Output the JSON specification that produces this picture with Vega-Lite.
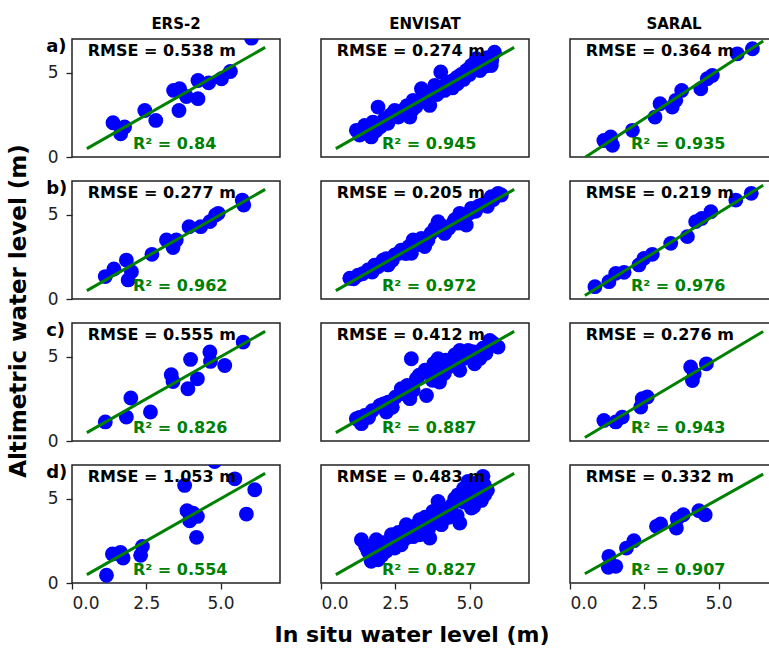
{
 "$schema": "https://vega.github.io/schema/vega-lite/v6.json",
 "padding": {"left": 7, "top": 17, "right": 0, "bottom": 0},
 "bounds": "flush",
 "config": {
  "font": "DejaVu Sans",
  "view": {"stroke": "#222", "strokeWidth": 1.5},
  "axis": {"grid": false, "domain": false, "tickColor": "#222", "tickSize": 6, "tickWidth": 1.3, "labelFontSize": 17, "labelColor": "#222", "labelPadding": 6}
 },
 "data": {"values": [
  {"s":"ERS-2","r":"a","k":"P","x":1.38,"y":2.03},{"s":"ERS-2","r":"a","k":"P","x":1.64,"y":1.38},{"s":"ERS-2","r":"a","k":"P","x":1.77,"y":1.78},{"s":"ERS-2","r":"a","k":"P","x":2.45,"y":2.76},{"s":"ERS-2","r":"a","k":"P","x":2.82,"y":2.17},{"s":"ERS-2","r":"a","k":"P","x":3.42,"y":3.95},{"s":"ERS-2","r":"a","k":"P","x":3.62,"y":4.05},{"s":"ERS-2","r":"a","k":"P","x":3.6,"y":2.76},{"s":"ERS-2","r":"a","k":"P","x":3.85,"y":3.59},{"s":"ERS-2","r":"a","k":"P","x":4.24,"y":3.46},{"s":"ERS-2","r":"a","k":"P","x":4.24,"y":4.54},{"s":"ERS-2","r":"a","k":"P","x":4.6,"y":4.4},{"s":"ERS-2","r":"a","k":"P","x":5.03,"y":4.64},{"s":"ERS-2","r":"a","k":"P","x":5.33,"y":5.07},{"s":"ERS-2","r":"a","k":"P","x":6.04,"y":7.05},
  {"s":"ERS-2","r":"b","k":"P","x":1.12,"y":1.33},{"s":"ERS-2","r":"b","k":"P","x":1.41,"y":1.78},{"s":"ERS-2","r":"b","k":"P","x":1.83,"y":2.31},{"s":"ERS-2","r":"b","k":"P","x":1.89,"y":1.13},{"s":"ERS-2","r":"b","k":"P","x":2.0,"y":1.62},{"s":"ERS-2","r":"b","k":"P","x":2.69,"y":2.65},{"s":"ERS-2","r":"b","k":"P","x":3.18,"y":3.5},{"s":"ERS-2","r":"b","k":"P","x":3.4,"y":3.05},{"s":"ERS-2","r":"b","k":"P","x":3.51,"y":3.5},{"s":"ERS-2","r":"b","k":"P","x":3.94,"y":4.29},{"s":"ERS-2","r":"b","k":"P","x":4.33,"y":4.29},{"s":"ERS-2","r":"b","k":"P","x":4.64,"y":4.59},{"s":"ERS-2","r":"b","k":"P","x":4.83,"y":4.98},{"s":"ERS-2","r":"b","k":"P","x":4.92,"y":5.08},{"s":"ERS-2","r":"b","k":"P","x":5.73,"y":5.87},{"s":"ERS-2","r":"b","k":"P","x":5.78,"y":5.57},
  {"s":"ERS-2","r":"c","k":"P","x":1.12,"y":1.13},{"s":"ERS-2","r":"c","k":"P","x":1.83,"y":1.42},{"s":"ERS-2","r":"c","k":"P","x":1.98,"y":2.55},{"s":"ERS-2","r":"c","k":"P","x":2.64,"y":1.72},{"s":"ERS-2","r":"c","k":"P","x":3.34,"y":3.93},{"s":"ERS-2","r":"c","k":"P","x":3.4,"y":3.53},{"s":"ERS-2","r":"c","k":"P","x":3.9,"y":3.1},{"s":"ERS-2","r":"c","k":"P","x":3.99,"y":4.84},{"s":"ERS-2","r":"c","k":"P","x":4.22,"y":3.69},{"s":"ERS-2","r":"c","k":"P","x":4.64,"y":5.28},{"s":"ERS-2","r":"c","k":"P","x":4.66,"y":4.72},{"s":"ERS-2","r":"c","k":"P","x":5.14,"y":4.48},{"s":"ERS-2","r":"c","k":"P","x":5.76,"y":5.87},
  {"s":"ERS-2","r":"d","k":"P","x":1.16,"y":0.46},{"s":"ERS-2","r":"d","k":"P","x":1.36,"y":1.72},{"s":"ERS-2","r":"d","k":"P","x":1.63,"y":1.82},{"s":"ERS-2","r":"d","k":"P","x":1.72,"y":1.48},{"s":"ERS-2","r":"d","k":"P","x":2.31,"y":1.64},{"s":"ERS-2","r":"d","k":"P","x":2.37,"y":2.17},{"s":"ERS-2","r":"d","k":"P","x":3.79,"y":5.79},{"s":"ERS-2","r":"d","k":"P","x":3.87,"y":4.29},{"s":"ERS-2","r":"d","k":"P","x":3.96,"y":3.69},{"s":"ERS-2","r":"d","k":"P","x":4.07,"y":4.15},{"s":"ERS-2","r":"d","k":"P","x":4.22,"y":3.95},{"s":"ERS-2","r":"d","k":"P","x":4.19,"y":2.71},{"s":"ERS-2","r":"d","k":"P","x":4.8,"y":7.21},{"s":"ERS-2","r":"d","k":"P","x":5.48,"y":6.18},{"s":"ERS-2","r":"d","k":"P","x":5.87,"y":4.09},{"s":"ERS-2","r":"d","k":"P","x":6.15,"y":5.53},
  {"s":"ENVISAT","r":"a","k":"P","x":1.19,"y":1.58},{"s":"ENVISAT","r":"a","k":"P","x":1.47,"y":1.87},{"s":"ENVISAT","r":"a","k":"P","x":1.69,"y":1.19},{"s":"ENVISAT","r":"a","k":"P","x":1.92,"y":2.96},{"s":"ENVISAT","r":"a","k":"P","x":1.75,"y":2.07},{"s":"ENVISAT","r":"a","k":"P","x":1.5,"y":1.45},{"s":"ENVISAT","r":"a","k":"P","x":2.14,"y":2.27},{"s":"ENVISAT","r":"a","k":"P","x":2.0,"y":1.8},{"s":"ENVISAT","r":"a","k":"P","x":2.48,"y":2.76},{"s":"ENVISAT","r":"a","k":"P","x":2.6,"y":2.37},{"s":"ENVISAT","r":"a","k":"P","x":2.82,"y":2.86},{"s":"ENVISAT","r":"a","k":"P","x":2.99,"y":2.37},{"s":"ENVISAT","r":"a","k":"P","x":3.1,"y":3.36},{"s":"ENVISAT","r":"a","k":"P","x":3.2,"y":3.0},{"s":"ENVISAT","r":"a","k":"P","x":3.38,"y":4.05},{"s":"ENVISAT","r":"a","k":"P","x":3.49,"y":3.46},{"s":"ENVISAT","r":"a","k":"P","x":3.66,"y":3.06},{"s":"ENVISAT","r":"a","k":"P","x":3.83,"y":4.25},{"s":"ENVISAT","r":"a","k":"P","x":3.9,"y":3.7},{"s":"ENVISAT","r":"a","k":"P","x":4.03,"y":5.04},{"s":"ENVISAT","r":"a","k":"P","x":4.16,"y":3.95},{"s":"ENVISAT","r":"a","k":"P","x":4.33,"y":4.45},{"s":"ENVISAT","r":"a","k":"P","x":4.59,"y":4.74},{"s":"ENVISAT","r":"a","k":"P","x":4.59,"y":4.35},{"s":"ENVISAT","r":"a","k":"P","x":4.89,"y":5.13},{"s":"ENVISAT","r":"a","k":"P","x":5.06,"y":5.43},{"s":"ENVISAT","r":"a","k":"P","x":5.23,"y":5.83},{"s":"ENVISAT","r":"a","k":"P","x":5.4,"y":5.63},{"s":"ENVISAT","r":"a","k":"P","x":5.35,"y":5.13},{"s":"ENVISAT","r":"a","k":"P","x":5.73,"y":5.43},{"s":"ENVISAT","r":"a","k":"P","x":5.84,"y":6.22},
  {"s":"ENVISAT","r":"a","k":"P","x":1.3,"y":1.3},{"s":"ENVISAT","r":"a","k":"P","x":1.6,"y":1.6},{"s":"ENVISAT","r":"a","k":"P","x":1.85,"y":1.55},{"s":"ENVISAT","r":"a","k":"P","x":2.25,"y":2.0},{"s":"ENVISAT","r":"a","k":"P","x":2.35,"y":2.5},{"s":"ENVISAT","r":"a","k":"P","x":2.7,"y":2.6},{"s":"ENVISAT","r":"a","k":"P","x":2.9,"y":3.05},{"s":"ENVISAT","r":"a","k":"P","x":3.05,"y":2.75},{"s":"ENVISAT","r":"a","k":"P","x":3.3,"y":3.3},{"s":"ENVISAT","r":"a","k":"P","x":3.5,"y":3.8},{"s":"ENVISAT","r":"a","k":"P","x":3.62,"y":3.5},{"s":"ENVISAT","r":"a","k":"P","x":4.0,"y":4.1},{"s":"ENVISAT","r":"a","k":"P","x":4.2,"y":4.3},{"s":"ENVISAT","r":"a","k":"P","x":4.42,"y":4.1},{"s":"ENVISAT","r":"a","k":"P","x":4.5,"y":4.6},{"s":"ENVISAT","r":"a","k":"P","x":4.72,"y":4.9},{"s":"ENVISAT","r":"a","k":"P","x":4.8,"y":4.6},{"s":"ENVISAT","r":"a","k":"P","x":5.0,"y":4.9},{"s":"ENVISAT","r":"a","k":"P","x":5.15,"y":5.2},{"s":"ENVISAT","r":"a","k":"P","x":5.3,"y":5.5},{"s":"ENVISAT","r":"a","k":"P","x":5.55,"y":5.4},{"s":"ENVISAT","r":"a","k":"P","x":5.6,"y":5.9},{"s":"ENVISAT","r":"a","k":"P","x":5.75,"y":5.75},
  {"s":"ENVISAT","r":"b","k":"P","x":0.97,"y":1.23},{"s":"ENVISAT","r":"b","k":"P","x":1.25,"y":1.42},{"s":"ENVISAT","r":"b","k":"P","x":1.58,"y":1.72},{"s":"ENVISAT","r":"b","k":"P","x":1.92,"y":1.92},{"s":"ENVISAT","r":"b","k":"P","x":2.09,"y":2.31},{"s":"ENVISAT","r":"b","k":"P","x":2.26,"y":2.02},{"s":"ENVISAT","r":"b","k":"P","x":2.48,"y":2.61},{"s":"ENVISAT","r":"b","k":"P","x":2.7,"y":2.9},{"s":"ENVISAT","r":"b","k":"P","x":3.04,"y":2.71},{"s":"ENVISAT","r":"b","k":"P","x":3.1,"y":3.5},{"s":"ENVISAT","r":"b","k":"P","x":3.38,"y":3.6},{"s":"ENVISAT","r":"b","k":"P","x":3.49,"y":3.11},{"s":"ENVISAT","r":"b","k":"P","x":3.83,"y":4.19},{"s":"ENVISAT","r":"b","k":"P","x":3.94,"y":4.59},{"s":"ENVISAT","r":"b","k":"P","x":4.16,"y":3.89},{"s":"ENVISAT","r":"b","k":"P","x":4.44,"y":4.49},{"s":"ENVISAT","r":"b","k":"P","x":4.67,"y":5.08},{"s":"ENVISAT","r":"b","k":"P","x":4.89,"y":4.39},{"s":"ENVISAT","r":"b","k":"P","x":5.06,"y":5.38},{"s":"ENVISAT","r":"b","k":"P","x":5.4,"y":5.57},{"s":"ENVISAT","r":"b","k":"P","x":5.73,"y":6.07},{"s":"ENVISAT","r":"b","k":"P","x":6.07,"y":6.17},{"s":"ENVISAT","r":"b","k":"P","x":5.96,"y":6.27},
  {"s":"ENVISAT","r":"b","k":"P","x":1.1,"y":1.2},{"s":"ENVISAT","r":"b","k":"P","x":1.4,"y":1.5},{"s":"ENVISAT","r":"b","k":"P","x":1.72,"y":1.6},{"s":"ENVISAT","r":"b","k":"P","x":1.8,"y":2.0},{"s":"ENVISAT","r":"b","k":"P","x":2.0,"y":2.1},{"s":"ENVISAT","r":"b","k":"P","x":2.2,"y":2.4},{"s":"ENVISAT","r":"b","k":"P","x":2.4,"y":2.3},{"s":"ENVISAT","r":"b","k":"P","x":2.6,"y":2.7},{"s":"ENVISAT","r":"b","k":"P","x":2.85,"y":2.7},{"s":"ENVISAT","r":"b","k":"P","x":2.95,"y":3.1},{"s":"ENVISAT","r":"b","k":"P","x":3.2,"y":3.2},{"s":"ENVISAT","r":"b","k":"P","x":3.3,"y":3.4},{"s":"ENVISAT","r":"b","k":"P","x":3.6,"y":3.5},{"s":"ENVISAT","r":"b","k":"P","x":3.7,"y":3.9},{"s":"ENVISAT","r":"b","k":"P","x":4.0,"y":4.1},{"s":"ENVISAT","r":"b","k":"P","x":4.1,"y":4.3},{"s":"ENVISAT","r":"b","k":"P","x":4.3,"y":4.2},{"s":"ENVISAT","r":"b","k":"P","x":4.5,"y":4.7},{"s":"ENVISAT","r":"b","k":"P","x":4.6,"y":4.5},{"s":"ENVISAT","r":"b","k":"P","x":4.8,"y":4.9},{"s":"ENVISAT","r":"b","k":"P","x":5.0,"y":5.1},{"s":"ENVISAT","r":"b","k":"P","x":5.2,"y":5.2},{"s":"ENVISAT","r":"b","k":"P","x":5.3,"y":5.5},{"s":"ENVISAT","r":"b","k":"P","x":5.55,"y":5.7},{"s":"ENVISAT","r":"b","k":"P","x":5.6,"y":5.5},{"s":"ENVISAT","r":"b","k":"P","x":5.8,"y":5.9},
  {"s":"ENVISAT","r":"c","k":"P","x":1.19,"y":1.32},{"s":"ENVISAT","r":"c","k":"P","x":1.47,"y":1.52},{"s":"ENVISAT","r":"c","k":"P","x":1.36,"y":1.03},{"s":"ENVISAT","r":"c","k":"P","x":1.98,"y":2.11},{"s":"ENVISAT","r":"c","k":"P","x":2.26,"y":2.31},{"s":"ENVISAT","r":"c","k":"P","x":2.2,"y":1.72},{"s":"ENVISAT","r":"c","k":"P","x":2.7,"y":3.1},{"s":"ENVISAT","r":"c","k":"P","x":3.04,"y":4.88},{"s":"ENVISAT","r":"c","k":"P","x":2.99,"y":2.51},{"s":"ENVISAT","r":"c","k":"P","x":3.21,"y":3.69},{"s":"ENVISAT","r":"c","k":"P","x":3.55,"y":2.7},{"s":"ENVISAT","r":"c","k":"P","x":3.66,"y":4.19},{"s":"ENVISAT","r":"c","k":"P","x":3.94,"y":4.88},{"s":"ENVISAT","r":"c","k":"P","x":3.99,"y":3.5},{"s":"ENVISAT","r":"c","k":"P","x":4.28,"y":4.39},{"s":"ENVISAT","r":"c","k":"P","x":4.67,"y":5.37},{"s":"ENVISAT","r":"c","k":"P","x":4.67,"y":4.19},{"s":"ENVISAT","r":"c","k":"P","x":4.95,"y":5.37},{"s":"ENVISAT","r":"c","k":"P","x":5.17,"y":4.58},{"s":"ENVISAT","r":"c","k":"P","x":5.29,"y":5.28},{"s":"ENVISAT","r":"c","k":"P","x":5.68,"y":5.96},{"s":"ENVISAT","r":"c","k":"P","x":5.96,"y":5.57},
  {"s":"ENVISAT","r":"c","k":"P","x":1.3,"y":1.4},{"s":"ENVISAT","r":"c","k":"P","x":1.6,"y":1.4},{"s":"ENVISAT","r":"c","k":"P","x":1.72,"y":1.8},{"s":"ENVISAT","r":"c","k":"P","x":2.1,"y":2.2},{"s":"ENVISAT","r":"c","k":"P","x":2.4,"y":2.0},{"s":"ENVISAT","r":"c","k":"P","x":2.5,"y":2.6},{"s":"ENVISAT","r":"c","k":"P","x":2.8,"y":2.8},{"s":"ENVISAT","r":"c","k":"P","x":2.9,"y":3.3},{"s":"ENVISAT","r":"c","k":"P","x":3.1,"y":3.0},{"s":"ENVISAT","r":"c","k":"P","x":3.3,"y":3.9},{"s":"ENVISAT","r":"c","k":"P","x":3.5,"y":4.2},{"s":"ENVISAT","r":"c","k":"P","x":3.75,"y":3.6},{"s":"ENVISAT","r":"c","k":"P","x":3.8,"y":4.6},{"s":"ENVISAT","r":"c","k":"P","x":4.05,"y":4.3},{"s":"ENVISAT","r":"c","k":"P","x":4.15,"y":4.0},{"s":"ENVISAT","r":"c","k":"P","x":4.2,"y":4.8},{"s":"ENVISAT","r":"c","k":"P","x":4.45,"y":4.6},{"s":"ENVISAT","r":"c","k":"P","x":4.5,"y":5.1},{"s":"ENVISAT","r":"c","k":"P","x":4.8,"y":4.9},{"s":"ENVISAT","r":"c","k":"P","x":5.0,"y":5.0},{"s":"ENVISAT","r":"c","k":"P","x":5.1,"y":5.3},{"s":"ENVISAT","r":"c","k":"P","x":5.35,"y":4.9},{"s":"ENVISAT","r":"c","k":"P","x":5.45,"y":5.5},{"s":"ENVISAT","r":"c","k":"P","x":5.55,"y":5.2},{"s":"ENVISAT","r":"c","k":"P","x":5.8,"y":5.8},
  {"s":"ENVISAT","r":"d","k":"P","x":1.36,"y":2.57},{"s":"ENVISAT","r":"d","k":"P","x":1.86,"y":2.57},{"s":"ENVISAT","r":"d","k":"P","x":1.58,"y":1.88},{"s":"ENVISAT","r":"d","k":"P","x":1.69,"y":1.29},{"s":"ENVISAT","r":"d","k":"P","x":1.92,"y":1.38},{"s":"ENVISAT","r":"d","k":"P","x":2.37,"y":2.86},{"s":"ENVISAT","r":"d","k":"P","x":2.48,"y":2.07},{"s":"ENVISAT","r":"d","k":"P","x":2.7,"y":2.27},{"s":"ENVISAT","r":"d","k":"P","x":2.87,"y":3.46},{"s":"ENVISAT","r":"d","k":"P","x":3.32,"y":3.75},{"s":"ENVISAT","r":"d","k":"P","x":3.32,"y":2.86},{"s":"ENVISAT","r":"d","k":"P","x":3.66,"y":2.67},{"s":"ENVISAT","r":"d","k":"P","x":3.77,"y":4.25},{"s":"ENVISAT","r":"d","k":"P","x":3.94,"y":4.84},{"s":"ENVISAT","r":"d","k":"P","x":4.05,"y":3.46},{"s":"ENVISAT","r":"d","k":"P","x":4.61,"y":5.23},{"s":"ENVISAT","r":"d","k":"P","x":4.67,"y":3.56},{"s":"ENVISAT","r":"d","k":"P","x":5.06,"y":4.45},{"s":"ENVISAT","r":"d","k":"P","x":4.95,"y":6.03},{"s":"ENVISAT","r":"d","k":"P","x":5.14,"y":4.54},{"s":"ENVISAT","r":"d","k":"P","x":5.45,"y":6.33},{"s":"ENVISAT","r":"d","k":"P","x":5.51,"y":5.23},{"s":"ENVISAT","r":"d","k":"P","x":5.29,"y":5.63},
  {"s":"ENVISAT","r":"d","k":"P","x":1.5,"y":2.2},{"s":"ENVISAT","r":"d","k":"P","x":1.75,"y":1.6},{"s":"ENVISAT","r":"d","k":"P","x":1.8,"y":2.2},{"s":"ENVISAT","r":"d","k":"P","x":2.05,"y":1.65},{"s":"ENVISAT","r":"d","k":"P","x":2.1,"y":2.4},{"s":"ENVISAT","r":"d","k":"P","x":2.2,"y":1.9},{"s":"ENVISAT","r":"d","k":"P","x":2.55,"y":2.45},{"s":"ENVISAT","r":"d","k":"P","x":2.6,"y":3.0},{"s":"ENVISAT","r":"d","k":"P","x":2.85,"y":2.65},{"s":"ENVISAT","r":"d","k":"P","x":3.0,"y":3.3},{"s":"ENVISAT","r":"d","k":"P","x":3.1,"y":2.75},{"s":"ENVISAT","r":"d","k":"P","x":3.2,"y":3.4},{"s":"ENVISAT","r":"d","k":"P","x":3.45,"y":3.2},{"s":"ENVISAT","r":"d","k":"P","x":3.5,"y":3.9},{"s":"ENVISAT","r":"d","k":"P","x":3.62,"y":3.2},{"s":"ENVISAT","r":"d","k":"P","x":3.75,"y":3.7},{"s":"ENVISAT","r":"d","k":"P","x":3.9,"y":3.95},{"s":"ENVISAT","r":"d","k":"P","x":4.0,"y":4.5},{"s":"ENVISAT","r":"d","k":"P","x":4.2,"y":4.2},{"s":"ENVISAT","r":"d","k":"P","x":4.3,"y":3.9},{"s":"ENVISAT","r":"d","k":"P","x":4.4,"y":4.6},{"s":"ENVISAT","r":"d","k":"P","x":4.5,"y":5.0},{"s":"ENVISAT","r":"d","k":"P","x":4.58,"y":4.0},{"s":"ENVISAT","r":"d","k":"P","x":4.8,"y":4.8},{"s":"ENVISAT","r":"d","k":"P","x":4.8,"y":5.6},{"s":"ENVISAT","r":"d","k":"P","x":5.0,"y":5.3},{"s":"ENVISAT","r":"d","k":"P","x":5.2,"y":5.0},{"s":"ENVISAT","r":"d","k":"P","x":5.3,"y":6.0},{"s":"ENVISAT","r":"d","k":"P","x":5.4,"y":4.9},{"s":"ENVISAT","r":"d","k":"P","x":5.5,"y":5.8},{"s":"ENVISAT","r":"d","k":"P","x":5.6,"y":5.5},
  {"s":"SARAL","r":"a","k":"P","x":1.14,"y":0.98},{"s":"SARAL","r":"a","k":"P","x":1.37,"y":1.19},{"s":"SARAL","r":"a","k":"P","x":1.43,"y":0.69},{"s":"SARAL","r":"a","k":"P","x":2.1,"y":1.58},{"s":"SARAL","r":"a","k":"P","x":2.86,"y":2.37},{"s":"SARAL","r":"a","k":"P","x":3.03,"y":3.16},{"s":"SARAL","r":"a","k":"P","x":3.44,"y":2.96},{"s":"SARAL","r":"a","k":"P","x":3.56,"y":3.36},{"s":"SARAL","r":"a","k":"P","x":3.76,"y":3.95},{"s":"SARAL","r":"a","k":"P","x":4.4,"y":4.05},{"s":"SARAL","r":"a","k":"P","x":4.62,"y":4.64},{"s":"SARAL","r":"a","k":"P","x":4.79,"y":4.84},{"s":"SARAL","r":"a","k":"P","x":5.63,"y":6.12},{"s":"SARAL","r":"a","k":"P","x":6.14,"y":6.42},
  {"s":"SARAL","r":"b","k":"P","x":0.84,"y":0.73},{"s":"SARAL","r":"b","k":"P","x":1.31,"y":1.03},{"s":"SARAL","r":"b","k":"P","x":1.54,"y":1.52},{"s":"SARAL","r":"b","k":"P","x":1.82,"y":1.58},{"s":"SARAL","r":"b","k":"P","x":2.32,"y":2.02},{"s":"SARAL","r":"b","k":"P","x":2.49,"y":2.41},{"s":"SARAL","r":"b","k":"P","x":2.77,"y":2.65},{"s":"SARAL","r":"b","k":"P","x":3.39,"y":3.3},{"s":"SARAL","r":"b","k":"P","x":3.95,"y":3.7},{"s":"SARAL","r":"b","k":"P","x":4.23,"y":4.59},{"s":"SARAL","r":"b","k":"P","x":4.43,"y":4.78},{"s":"SARAL","r":"b","k":"P","x":4.74,"y":5.18},{"s":"SARAL","r":"b","k":"P","x":5.58,"y":5.87},{"s":"SARAL","r":"b","k":"P","x":6.1,"y":6.27},
  {"s":"SARAL","r":"c","k":"P","x":1.14,"y":1.22},{"s":"SARAL","r":"c","k":"P","x":1.54,"y":1.13},{"s":"SARAL","r":"c","k":"P","x":1.76,"y":1.42},{"s":"SARAL","r":"c","k":"P","x":2.38,"y":2.01},{"s":"SARAL","r":"c","k":"P","x":2.43,"y":2.51},{"s":"SARAL","r":"c","k":"P","x":2.6,"y":2.61},{"s":"SARAL","r":"c","k":"P","x":4.06,"y":4.39},{"s":"SARAL","r":"c","k":"P","x":4.12,"y":3.59},{"s":"SARAL","r":"c","k":"P","x":4.18,"y":3.99},{"s":"SARAL","r":"c","k":"P","x":4.59,"y":4.58},
  {"s":"SARAL","r":"d","k":"P","x":1.31,"y":1.58},{"s":"SARAL","r":"d","k":"P","x":1.29,"y":0.93},{"s":"SARAL","r":"d","k":"P","x":1.54,"y":0.99},{"s":"SARAL","r":"d","k":"P","x":1.9,"y":2.07},{"s":"SARAL","r":"d","k":"P","x":2.15,"y":2.51},{"s":"SARAL","r":"d","k":"P","x":2.91,"y":3.36},{"s":"SARAL","r":"d","k":"P","x":3.05,"y":3.5},{"s":"SARAL","r":"d","k":"P","x":3.58,"y":3.26},{"s":"SARAL","r":"d","k":"P","x":3.61,"y":3.81},{"s":"SARAL","r":"d","k":"P","x":3.81,"y":4.05},{"s":"SARAL","r":"d","k":"P","x":4.34,"y":4.29},{"s":"SARAL","r":"d","k":"P","x":4.55,"y":4.05},
  {"s":"ERS-2","r":"a","k":"L","x":0.5,"y":0.5},{"s":"ERS-2","r":"a","k":"L","x":6.5,"y":6.5},
  {"s":"ERS-2","r":"b","k":"L","x":0.5,"y":0.5},{"s":"ERS-2","r":"b","k":"L","x":6.5,"y":6.5},
  {"s":"ERS-2","r":"c","k":"L","x":0.5,"y":0.5},{"s":"ERS-2","r":"c","k":"L","x":6.5,"y":6.5},
  {"s":"ERS-2","r":"d","k":"L","x":0.5,"y":0.5},{"s":"ERS-2","r":"d","k":"L","x":6.5,"y":6.5},
  {"s":"ENVISAT","r":"a","k":"L","x":0.5,"y":0.5},{"s":"ENVISAT","r":"a","k":"L","x":6.5,"y":6.5},
  {"s":"ENVISAT","r":"b","k":"L","x":0.5,"y":0.5},{"s":"ENVISAT","r":"b","k":"L","x":6.5,"y":6.5},
  {"s":"ENVISAT","r":"c","k":"L","x":0.5,"y":0.5},{"s":"ENVISAT","r":"c","k":"L","x":6.5,"y":6.5},
  {"s":"ENVISAT","r":"d","k":"L","x":0.5,"y":0.5},{"s":"ENVISAT","r":"d","k":"L","x":6.5,"y":6.5},
  {"s":"SARAL","r":"a","k":"L","x":0.5,"y":-0.03},{"s":"SARAL","r":"a","k":"L","x":6.5,"y":6.88},
  {"s":"SARAL","r":"b","k":"L","x":0.5,"y":0.21},{"s":"SARAL","r":"b","k":"L","x":6.5,"y":6.75},
  {"s":"SARAL","r":"c","k":"L","x":0.5,"y":0.21},{"s":"SARAL","r":"c","k":"L","x":6.5,"y":6.5},
  {"s":"SARAL","r":"d","k":"L","x":0.5,"y":0.55},{"s":"SARAL","r":"d","k":"L","x":6.5,"y":6.46},
  {"s":"ERS-2","r":"a","k":"S","t1":"RMSE = 0.538 m","t2":"R² = 0.84","g":"a)"},
  {"s":"ERS-2","r":"b","k":"S","t1":"RMSE = 0.277 m","t2":"R² = 0.962","g":"b)"},
  {"s":"ERS-2","r":"c","k":"S","t1":"RMSE = 0.555 m","t2":"R² = 0.826","g":"c)"},
  {"s":"ERS-2","r":"d","k":"S","t1":"RMSE = 1.053 m","t2":"R² = 0.554","g":"d)"},
  {"s":"ENVISAT","r":"a","k":"S","t1":"RMSE = 0.274 m","t2":"R² = 0.945","g":""},
  {"s":"ENVISAT","r":"b","k":"S","t1":"RMSE = 0.205 m","t2":"R² = 0.972","g":""},
  {"s":"ENVISAT","r":"c","k":"S","t1":"RMSE = 0.412 m","t2":"R² = 0.887","g":""},
  {"s":"ENVISAT","r":"d","k":"S","t1":"RMSE = 0.483 m","t2":"R² = 0.827","g":""},
  {"s":"SARAL","r":"a","k":"S","t1":"RMSE = 0.364 m","t2":"R² = 0.935","g":""},
  {"s":"SARAL","r":"b","k":"S","t1":"RMSE = 0.219 m","t2":"R² = 0.976","g":""},
  {"s":"SARAL","r":"c","k":"S","t1":"RMSE = 0.276 m","t2":"R² = 0.943","g":""},
  {"s":"SARAL","r":"d","k":"S","t1":"RMSE = 0.332 m","t2":"R² = 0.907","g":""}
 ]},
 "facet": {
  "row": {"field": "r", "type": "nominal", "sort": ["a","b","c","d"],
   "header": {"title": "Altimetric water level (m)", "titleFontSize": 23, "titleFontWeight": "bold", "titleColor": "#000", "titlePadding": 6, "labels": false}},
  "column": {"field": "s", "type": "nominal", "sort": ["ERS-2","ENVISAT","SARAL"],
   "header": {"title": "In situ water level (m)", "titleOrient": "bottom", "labelOrient": "top", "titleFontSize": 22, "titleFontWeight": "bold", "titleColor": "#000", "labelFontSize": 15, "labelFontWeight": "bold", "labelColor": "#000", "labelPadding": 7, "titlePadding": 4}}
 },
 "spacing": {"row": 24, "column": 41},
 "spec": {
  "width": 208,
  "height": 118,
  "layer": [
   {"transform": [{"filter": "datum.k == 'P'"}], "mark": {"type": "circle", "size": 220, "color": "#0000ff", "opacity": 1, "clip": true},
    "encoding": {
     "x": {"field": "x", "type": "quantitative", "scale": {"domain": [0, 7], "nice": false, "zero": false}, "axis": {"values": [0, 2.5, 5], "format": ".1f", "title": null}},
     "y": {"field": "y", "type": "quantitative", "scale": {"domain": [0, 7], "nice": false, "zero": false}, "axis": {"values": [0, 5], "title": null, "labelPadding": 8}}
    }},
   {"transform": [{"filter": "datum.k == 'L'"}], "mark": {"type": "line", "color": "#008000", "strokeWidth": 3, "clip": true},
    "encoding": {
     "x": {"field": "x", "type": "quantitative"},
     "y": {"field": "y", "type": "quantitative"}
    }},
   {"transform": [{"filter": "datum.k == 'S'"}], "mark": {"type": "text", "align": "left", "baseline": "alphabetic", "fontSize": 16, "fontWeight": "bold", "color": "#000"},
    "encoding": {"x": {"datum": 0.53, "type": "quantitative"}, "y": {"datum": 6.02, "type": "quantitative"}, "text": {"field": "t1"}}},
   {"transform": [{"filter": "datum.k == 'S'"}], "mark": {"type": "text", "align": "left", "baseline": "alphabetic", "fontSize": 16, "fontWeight": "bold", "color": "#008000"},
    "encoding": {"x": {"datum": 2.05, "type": "quantitative"}, "y": {"datum": 0.49, "type": "quantitative"}, "text": {"field": "t2"}}},
   {"transform": [{"filter": "datum.k == 'S'"}], "mark": {"type": "text", "align": "left", "baseline": "alphabetic", "fontSize": 18, "fontWeight": "bold", "color": "#000"},
    "encoding": {"x": {"datum": -0.87, "type": "quantitative"}, "y": {"datum": 6.22, "type": "quantitative"}, "text": {"field": "g"}}}
  ]
 }
}
